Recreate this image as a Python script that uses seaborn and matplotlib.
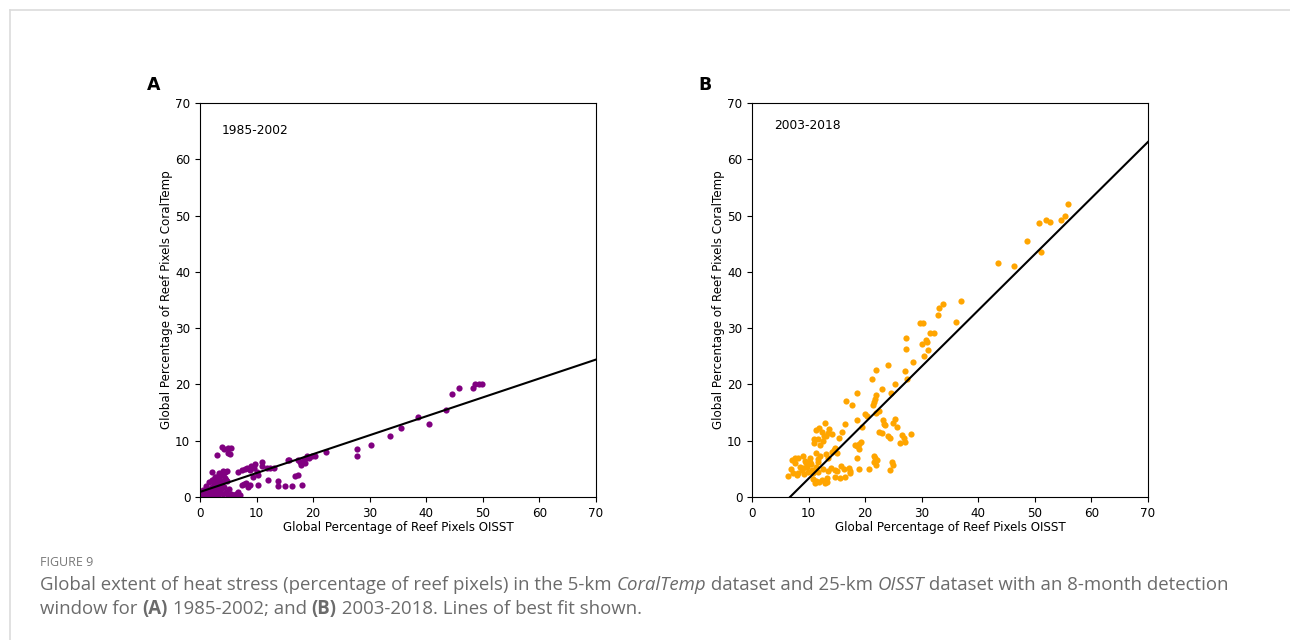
import numpy as np
import pandas as pd
import matplotlib
matplotlib.use("Agg")
import matplotlib.pyplot as plt
import seaborn as sb

# panel A: 1985-2002 (OISST x, CoralTemp y)
oisst_a = [0.3, 0.5, 0.8, 1.0, 1.2, 1.4, 1.5, 1.7, 1.9, 2.0, 2.1, 2.2, 2.4, 2.5, 2.6, 2.7, 2.8,
           3.0, 3.1, 3.2, 3.3, 3.5, 3.6, 3.8, 3.9, 4.1, 4.2, 4.4, 4.6, 4.8, 5.0, 5.2, 5.5, 5.9,
           6.4, 6.8, 7.0, 0.6, 1.1, 1.6, 2.3, 2.9, 3.4, 2.1, 4.1, 4.5, 4.8, 3.9, 4.3, 2.7, 3.2,
           2.2, 2.4, 4.6,
           3.9, 4.2, 4.9, 5.5, 4.9, 5.3, 3.0,
           6.8, 7.4, 8.0, 8.3, 8.8, 9.1, 9.7, 9.5, 10.9, 10.9, 10.0, 10.3, 9.4, 11.8, 12.4, 13.0,
           12.1, 7.7, 8.2, 8.5, 8.9, 7.4, 10.3, 13.8, 13.8, 15.0, 16.3, 18.0, 15.6, 15.8, 16.8,
           17.3, 17.3, 17.8, 18.1, 18.6, 18.3, 19.0, 19.3, 19.8, 20.3, 18.8, 17.6, 22.3, 27.8,
           27.8, 30.2, 33.5, 35.5, 38.5, 40.5, 43.5, 44.5, 45.8, 48.2, 48.6, 49.4, 49.8]
coral_a = [0.2, 0.5, 0.3, 0.8, 0.2, 1.0, 0.5, 1.5, 0.3, 0.9, 1.8, 0.5, 1.2, 2.2, 0.3, 1.6, 0.8,
           2.6, 1.1, 0.4, 1.9, 3.1, 0.7, 1.4, 2.4, 0.5, 1.8, 3.3, 0.9, 2.8, 0.4, 1.5, 0.6, 0.3,
           0.5, 0.8, 0.4, 1.3, 1.9, 2.6, 3.0, 3.6, 4.3, 4.5, 4.6, 4.4, 4.7, 3.9, 4.2, 3.5, 3.4,
           3.0, 2.9, 3.1,
           8.9, 8.5, 8.7, 8.7, 7.8, 7.6, 7.4,
           4.5, 4.8, 4.9, 5.1, 4.8, 5.5, 5.9, 5.1, 6.3, 5.5, 4.5, 3.9, 3.6, 5.1, 5.1, 5.1,
           3.1, 2.3, 2.5, 1.8, 2.2, 2.1, 2.1, 2.9, 2.0, 2.0, 2.0, 2.1, 6.6, 6.5, 3.7,
           3.9, 6.6, 5.7, 6.2, 6.0, 6.8, 7.3, 6.9, 7.2, 7.3, 7.0, 6.2, 8.0, 8.5,
           7.3, 9.2, 10.9, 12.3, 14.2, 12.9, 15.5, 18.3, 19.4, 19.3, 20.0, 20.0, 20.1]

# panel B: 2003-2018
oisst_b = [55.9, 55.4, 54.6, 52.7, 52.0, 50.7, 51.1, 48.6, 46.3, 43.5, 36.9, 33.8, 33.1, 32.8,
           36.1, 29.7, 30.2, 31.5, 32.1, 30.8, 31.0, 30.1, 31.1, 30.4, 27.2, 27.2, 28.5, 24.0,
           22.0, 21.2, 27.0, 27.4, 25.3, 23.0, 24.5, 18.5, 21.4, 21.7, 22.0, 21.6, 16.7, 17.6,
           20.3, 18.6, 21.9, 22.5, 23.1, 23.4, 23.5, 25.3, 25.6, 25.0, 22.5, 23.0, 24.1, 24.4,
           26.5, 26.9, 28.1, 27.1, 26.2, 12.9, 13.6, 14.2, 12.8, 12.3, 11.9, 11.3, 11.6, 10.9,
           11.0, 14.7, 14.5, 15.0, 14.2, 13.5, 13.1, 18.2, 18.5, 19.0, 19.3, 18.9, 18.6, 21.6,
           21.8, 22.1, 21.5, 22.0, 24.7, 25.0, 24.4, 20.6, 18.9, 17.4, 17.2, 16.3, 15.7, 15.1,
           14.6, 14.0, 13.4, 12.5, 11.7, 11.3, 11.9, 12.4, 13.2, 12.9, 11.1, 10.8, 14.7, 15.6,
           16.4, 17.3, 6.4, 7.3, 7.9, 7.6, 7.6, 8.1, 9.0, 9.4, 8.5, 9.0, 9.5, 9.8, 10.3, 10.6,
           10.8, 11.4, 11.6, 12.0, 11.7, 11.4, 12.0, 12.5, 13.1, 13.5, 9.9, 8.8, 10.2, 10.4,
           8.2, 9.2, 6.9, 7.1, 13.2, 15.4, 15.9, 16.5, 20.0, 19.5]
coral_b = [52.0, 50.0, 49.3, 48.8, 49.2, 48.6, 43.6, 45.5, 41.1, 41.6, 34.9, 34.3, 33.6, 32.3,
           31.1, 30.9, 30.9, 29.1, 29.2, 27.9, 27.6, 27.2, 26.2, 25.1, 28.2, 26.3, 23.9, 23.4,
           22.5, 20.9, 22.4, 21.0, 20.1, 19.2, 18.5, 18.5, 16.4, 17.5, 18.1, 16.9, 17.0, 16.4,
           14.4, 13.7, 15.0, 15.2, 13.6, 13.0, 12.8, 13.8, 12.5, 13.2, 11.6, 11.4, 10.8, 10.5,
           11.1, 10.5, 11.2, 9.8, 9.6, 13.2, 12.0, 11.2, 10.8, 11.5, 12.2, 11.9, 10.3, 10.3,
           9.6, 8.7, 8.3, 7.9, 8.0, 6.9, 7.6, 9.2, 9.0, 9.5, 9.7, 8.6, 6.9, 7.3,
           6.9, 6.6, 6.3, 5.7, 6.3, 5.7, 4.8, 4.9, 4.9, 4.6, 5.1, 4.9, 5.5, 4.6,
           4.8, 5.1, 4.6, 4.9, 4.4, 2.8, 2.6, 3.0, 2.6, 2.4, 2.5, 3.2, 3.6, 3.4,
           3.6, 4.2, 3.8, 4.3, 3.9, 6.0, 7.0, 7.0, 7.3, 6.4, 5.4, 5.1, 6.0, 5.4, 6.2, 4.8,
           4.2, 5.4, 6.3, 7.2, 6.8, 7.8, 9.2, 10.0, 10.8, 11.4, 4.5, 4.8, 7.0, 5.8,
           4.3, 4.0, 5.0, 6.5, 3.3, 10.5, 11.5, 13.0, 14.8, 12.4]

# lines of best fit (slope, intercept)
fit_a = (0.336, 0.9)
fit_b = (0.997, -6.7)

periods = ['1985-2002', '2003-2018']
colors = ['purple', 'orange']
letters = ['A', 'B']
ticks = [0, 10, 20, 30, 40, 50, 60, 70]

df_a = pd.DataFrame({'OISST': oisst_a, 'CoralTemp': coral_a})
df_b = pd.DataFrame({'OISST': oisst_b, 'CoralTemp': coral_b})

fs = 8.6
fig = plt.figure(figsize=(12.9, 6.4), dpi=100)
ax_a = fig.add_axes([200/1290, 143/640, 396/1290, 394/640])
ax_b = fig.add_axes([752/1290, 143/640, 396/1290, 394/640])

for ax, df, fit, per, col, let, ty in zip([ax_a, ax_b], [df_a, df_b], [fit_a, fit_b],
                                            periods, colors, letters, [0.93, 0.943]):
    sb.scatterplot(data=df, x='OISST', y='CoralTemp', color=col, s=20, linewidth=0, ax=ax)
    xs = np.array([0, 70])
    ax.plot(xs, fit[0]*xs + fit[1], color='black', lw=1.5)
    ax.set_xlim(0, 70)
    ax.set_ylim(0, 70)
    ax.set_xticks(ticks)
    ax.set_yticks(ticks)
    ax.tick_params(labelsize=fs)
    ax.set_xlabel('Global Percentage of Reef Pixels OISST', fontsize=fs, labelpad=1)
    ax.set_ylabel('Global Percentage of Reef Pixels CoralTemp', fontsize=fs, labelpad=1.5)
    ax.text(0.055, ty, per, transform=ax.transAxes, fontsize=8.8, va='center')
    ax.text(-0.135, 1.045, let, transform=ax.transAxes, fontsize=12.5, fontweight='bold',
            va='center')

# card border
fig.add_artist(plt.Line2D([10/1290, 1], [630/640, 630/640], color='#dcdcdc', lw=1.2))
fig.add_artist(plt.Line2D([10/1290, 10/1290], [0, 630/640], color='#dcdcdc', lw=1.2))

# caption
fig.text(40/1290, 1 - 562/640, 'FIGURE 9', fontsize=9, color='#777777', va='center',
         family='Open Sans')
renderer = fig.canvas.get_renderer()
cap_lines = [
    [('Global extent of heat stress (percentage of reef pixels) in the 5-km ', 'normal', 'normal'),
     ('CoralTemp', 'italic', 'normal'),
     (' dataset and 25-km ', 'normal', 'normal'),
     ('OISST', 'italic', 'normal'),
     (' dataset with an 8-month detection', 'normal', 'normal')],
    [('window for ', 'normal', 'normal'),
     ('(A)', 'normal', 'bold'),
     (' 1985-2002; and ', 'normal', 'normal'),
     ('(B)', 'normal', 'bold'),
     (' 2003-2018. Lines of best fit shown.', 'normal', 'normal')],
]
for yy, parts in zip([585, 609], cap_lines):
    xpix = 40
    for txt, style, weight in parts:
        t = fig.text(xpix/1290, 1 - yy/640, txt, fontsize=13.4, color='#6b6b6b', va='center',
                     family='Open Sans', style=style, weight=weight)
        bb = t.get_window_extent(renderer=renderer)
        xpix += bb.width

fig.savefig('out.png', dpi=100)
